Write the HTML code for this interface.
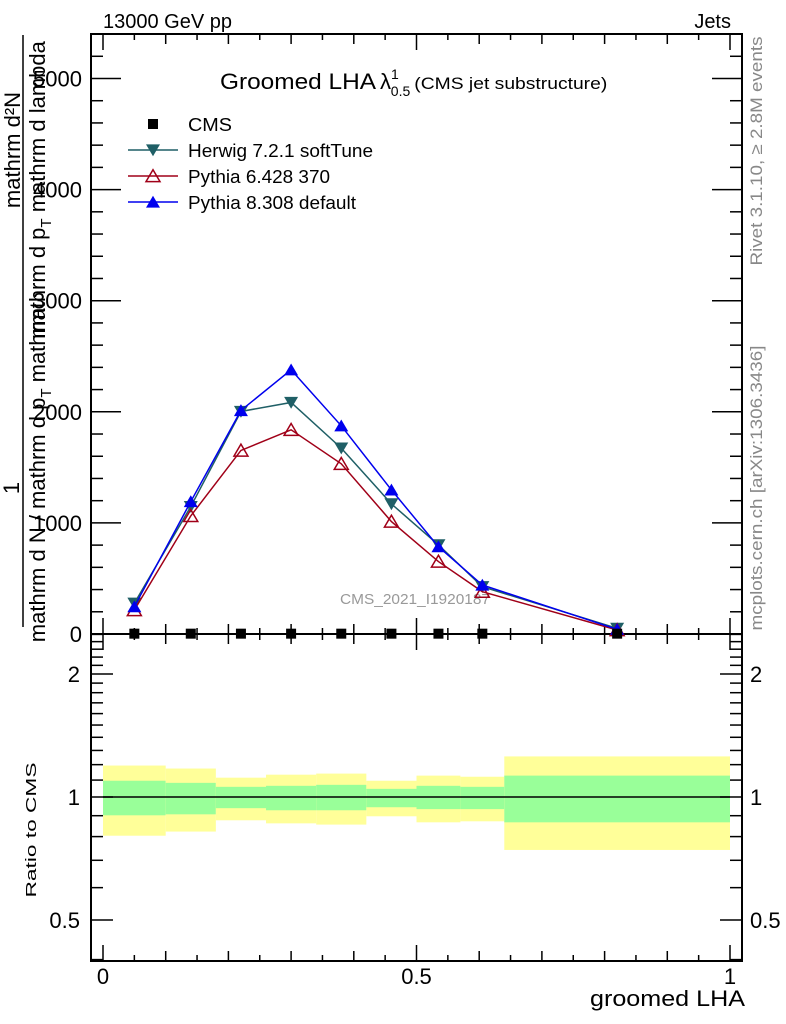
<!DOCTYPE html>
<html><head><meta charset="utf-8"><style>
body{margin:0;background:#fff}
svg{font-family:"Liberation Sans",sans-serif;display:block}
</style></head><body>
<svg id="c" width="786" height="1024" viewBox="0 0 786 1024">
<text x="103" y="28" font-size="20">13000 GeV pp</text>
<text x="731" y="28" font-size="20" text-anchor="end">Jets</text>
<text x="220" y="89" font-size="22"><tspan textLength="156" lengthAdjust="spacingAndGlyphs">Groomed LHA</tspan><tspan dx="4">λ</tspan><tspan font-size="14" dy="-10">1</tspan><tspan font-size="14" dx="-8" dy="17">0.5</tspan><tspan font-size="17" dx="4" dy="-7" textLength="193" lengthAdjust="spacingAndGlyphs">(CMS jet substructure)</tspan></text>
<text transform="translate(762,151) rotate(-90)" font-size="17" fill="#888" text-anchor="middle" textLength="229" lengthAdjust="spacingAndGlyphs">Rivet 3.1.10, ≥ 2.8M events</text>
<text transform="translate(762,488) rotate(-90)" font-size="17" fill="#888" text-anchor="middle" textLength="285" lengthAdjust="spacingAndGlyphs">mcplots.cern.ch [arXiv:1306.3436]</text>
<g font-size="22">
<text transform="translate(20,150) rotate(-90)" text-anchor="middle">mathrm d²N</text>
<line x1="23" y1="35" x2="23" y2="627" stroke="#000" stroke-width="1.5"/>
<text transform="translate(45,190) rotate(-90)" text-anchor="middle">mathrm d p<tspan font-size="15" dy="6">T</tspan><tspan dy="-6"> mathrm d lambda</tspan></text>
<text transform="translate(19,488) rotate(-90)" text-anchor="middle">1</text>
<text transform="translate(45,475) rotate(-90)" text-anchor="middle">mathrm d N / mathrm d p<tspan font-size="15" dy="6">T</tspan><tspan dy="-6"> mathrm</tspan></text>
</g>
<text transform="translate(36,830) rotate(-90)" font-size="15" text-anchor="middle" textLength="135" lengthAdjust="spacingAndGlyphs">Ratio to CMS</text>
<text x="745" y="1006" font-size="22" text-anchor="end" textLength="155" lengthAdjust="spacingAndGlyphs">groomed LHA</text>
<text x="340" y="604" font-size="15" fill="#999" textLength="150" lengthAdjust="spacingAndGlyphs">CMS_2021_I1920187</text>
<g id="bands"></g><g id="axes"></g><g id="series"></g>
<g id="legend"></g>
</svg>
<script>
const binEdges=[0,0.1,0.18,0.26,0.34,0.42,0.5,0.57,0.64,1.0];
const xCenters=[0.05,0.14,0.22,0.30,0.38,0.46,0.535,0.605,0.82];
const cmsValues=[3,3,3,3,3,3,3,3,3];
const herwigValues=[277,1147,2003,2084,1673,1171,802,426,51];
const pythia6Values=[216,1063,1652,1838,1532,1012,652,381,36];
const pythia8Values=[246,1192,2012,2378,1874,1297,786,441,42];
const yellowHi=[1.194,1.174,1.115,1.134,1.141,1.096,1.128,1.121,1.257];
const greenHi=[1.096,1.083,1.059,1.065,1.071,1.047,1.065,1.059,1.128];
const greenLo=[0.902,0.907,0.939,0.928,0.928,0.944,0.934,0.934,0.867];
const yellowLo=[0.804,0.823,0.877,0.862,0.856,0.897,0.867,0.872,0.742];
const mainTicks=[0,1000,2000,3000,4000,5000];
const xTickLabels=["0","0.5","1"];
const ratioTickLabels=["0.5","1","2"];

const NS="http://www.w3.org/2000/svg";
const L=91,R=742,T=34,MB=634,RB=961;
const X=v=>103+v*627;
const Y=v=>634-v*0.1111;
const YR=r=>797-123*Math.log2(r);
function mk(tag,attrs,parent){const e=document.createElementNS(NS,tag);for(const k in attrs)e.setAttribute(k,attrs[k]);document.getElementById(parent).appendChild(e);return e;}

for(let i=0;i<xCenters.length;i++){
 const x0=X(binEdges[i]),x1=X(binEdges[i+1]);
 const y=mk('rect',{x:x0,y:YR(yellowHi[i]),width:x1-x0,height:YR(yellowLo[i])-YR(yellowHi[i]),fill:'#ffff99'},'bands');
 
 
 const g=mk('rect',{x:x0,y:YR(greenHi[i]),width:x1-x0,height:YR(greenLo[i])-YR(greenHi[i]),fill:'#99ff99'},'bands');
 
 
}
const rl=mk('line',{x1:X(binEdges[0]),x2:X(binEdges[binEdges.length-1]),y1:YR(1),y2:YR(1),stroke:'#000','stroke-width':1.5},'bands');



for(const [t,b] of [[T,MB],[MB,RB]]){
 const f=mk('rect',{x:L,y:t,width:R-L,height:b-t,fill:'none',stroke:'#000','stroke-width':2},'axes');
 
 
}
for(let k=0;k<=20;k++){
 const v=k*0.05,x=X(v),len=(k%10==0)?16:(k%2==0?10:6);
 for(const [base,dir] of [[MB,-1],[T,1],[RB,-1],[MB,1]]){
  mk('line',{x1:x,x2:x,y1:base,y2:base+dir*len,stroke:'#000','stroke-width':1.5},'axes');
 }
}
xTickLabels.forEach((s,i)=>{
 const t=mk('text',{x:X(i*0.5),y:984,'font-size':22,'text-anchor':'middle'},'axes');t.textContent=s;
 
 
});
for(let v=0;v<=5400;v+=200){
 const y=Y(v);if(y<T)break;const len=(v%1000==0)?30:12;
 mk('line',{x1:L,x2:L+len,y1:y,y2:y,stroke:'#000','stroke-width':1.5},'axes');
 mk('line',{x1:R,x2:R-len,y1:y,y2:y,stroke:'#000','stroke-width':1.5},'axes');
}
mainTicks.forEach(v=>{
 const t=mk('text',{x:82,y:Y(v)+8,'font-size':22,'text-anchor':'end'},'axes');t.textContent=String(v);
 
 
});
const rt=[0.4,0.5,0.6,0.7,0.8,0.9,1,1.1,1.2,1.3,1.4,1.5,1.6,1.7,1.8,1.9,2,2.1,2.2,2.3,2.4,2.5];
rt.forEach(v=>{const y=YR(v);if(y<MB||y>RB)return;const len=(v==0.5||v==1||v==2)?22:12;
 mk('line',{x1:L,x2:L+len,y1:y,y2:y,stroke:'#000','stroke-width':1.5},'axes');
 mk('line',{x1:R,x2:R-len,y1:y,y2:y,stroke:'#000','stroke-width':1.5},'axes');});
ratioTickLabels.forEach(s=>{
 const v=parseFloat(s);
 const t=mk('text',{x:80,y:YR(v)+8,'font-size':22,'text-anchor':'end'},'axes');t.textContent=s;
 
 
 const t2=mk('text',{x:750,y:YR(v)+8,'font-size':22},'axes');t2.textContent=s;
 
 
});

function marker(kind,x,y,color,parent){
 const s=7;
 if(kind=='down')return mk('polygon',{points:`${x-s},${y-s*0.8} ${x+s},${y-s*0.8} ${x},${y+s*0.9}`,fill:color},parent);
 if(kind=='up')return mk('polygon',{points:`${x-s},${y+s*0.8} ${x+s},${y+s*0.8} ${x},${y-s*0.9}`,fill:color},parent);
 if(kind=='upopen')return mk('polygon',{points:`${x-s},${y+s*0.8} ${x+s},${y+s*0.8} ${x},${y-s*0.9}`,fill:'none',stroke:color,'stroke-width':1.5},parent);
 return mk('rect',{x:x-5,y:y-5,width:10,height:10,fill:color},parent);
}
const series=[
 {name:'herwig',vals:herwigValues,color:'#1f5f66',kind:'down'},
 {name:'pythia6',vals:pythia6Values,color:'#a00018',kind:'upopen'},
 {name:'pythia8',vals:pythia8Values,color:'#0000ee',kind:'up'}];
series.forEach(s=>{
 const pts=s.vals.map((v,i)=>X(xCenters[i])+','+Y(v)).join(' ');
 const pl=mk('polyline',{points:pts,fill:'none',stroke:s.color,'stroke-width':1.5},'series');
 
 
 s.vals.forEach((v,i)=>{const m=marker(s.kind,X(xCenters[i]),Y(v),s.color,'series');
  
  });
});
cmsValues.forEach((v,i)=>{const m=marker('sq',X(xCenters[i]),Y(v),'#000','series');
 
 });

const leg=[['CMS','#000','sq',44],['Herwig 7.2.1 softTune','#1f5f66','down',185],['Pythia 6.428 370','#a00018','upopen',142],['Pythia 8.308 default','#0000ee','up',168]];
leg.forEach((e,i)=>{const y=124+i*26;
 if(i>0){const l=mk('line',{x1:128,x2:178,y1:y,y2:y,stroke:e[1],'stroke-width':1.5},'legend');
  
  }
 marker(e[2],153,y,e[1],'legend');
 const t=mk('text',{x:188,y:y+7,'font-size':18,textLength:e[3],lengthAdjust:'spacingAndGlyphs'},'legend');t.textContent=e[0];
 
 
});
</script>
</body></html>
